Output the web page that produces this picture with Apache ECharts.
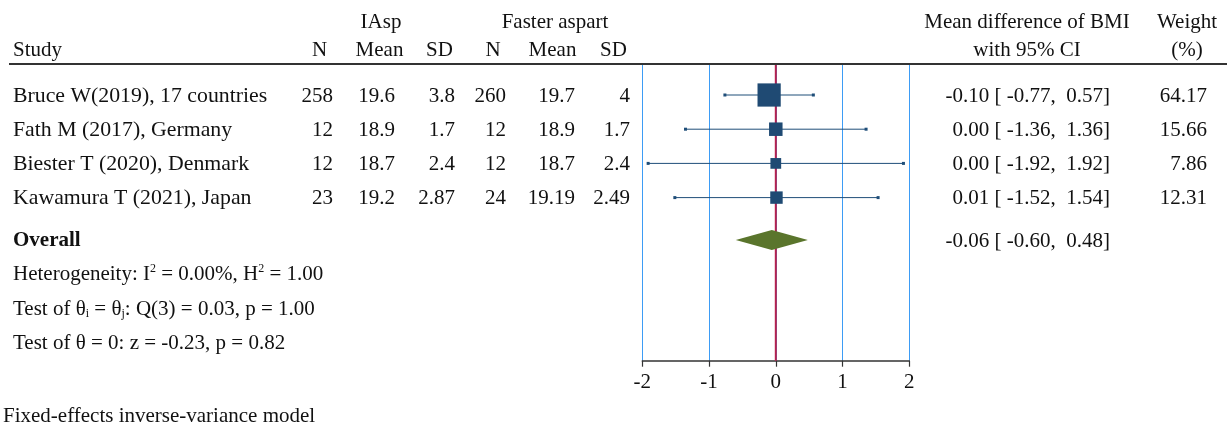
<!DOCTYPE html>
<html>
<head>
<meta charset="utf-8">
<script src="https://cdn.jsdelivr.net/npm/echarts@6/dist/echarts.min.js"></script>
<style>
html,body{margin:0;padding:0;background:#fff;}
#chart{width:1231px;height:428px;}
</style>
</head>
<body>
<div id="chart"></div>
<script>
// ---------------- data ----------------
var studies = ['Bruce W(2019), 17 countries', 'Fath M (2017), Germany', 'Biester T (2020), Denmark', 'Kawamura T (2021), Japan'];
var iaspN = [258, 12, 12, 23];
var iaspMean = ['19.6', '18.9', '18.7', '19.2'];
var iaspSD = ['3.8', '1.7', '2.4', '2.87'];
var fasterN = [260, 12, 12, 24];
var fasterMean = ['19.7', '18.9', '18.7', '19.19'];
var fasterSD = ['4', '1.7', '2.4', '2.49'];
var meanDiff = [-0.10, 0.00, 0.00, 0.01];
var ciLow = [-0.77, -1.36, -1.92, -1.52];
var ciHigh = [0.57, 1.36, 1.92, 1.54];
var weights = ['64.17', '15.66', '7.86', '12.31'];
var overallMD = -0.06;
var overallLow = -0.60;
var overallHigh = 0.48;
var nullEffect = 0;
var xTicks = [-2, -1, 0, 1, 2];
var statLines = [
  'Heterogeneity: I{sup|2} = 0.00%, H{sup|2} = 1.00',
  'Test of θ{sub|i} = θ{sub|j}: Q(3) = 0.03, p = 1.00',
  'Test of θ = 0: z = -0.23, p = 0.82'
];
var footer = 'Fixed-effects inverse-variance model';

// ---------------- layout ----------------
var FONT = '"Liberation Serif", "Times New Roman", serif';
var FS = 21;
var PLOT_TOP = 65, PLOT_BOTTOM = 360.7;
function rowPos(i) { return 30 + 34.2 * i; }   // offset from plot top (px units on y axis)
var OVERALL_POS = 175;

function fmt(v) { return v.toFixed(2); }
function ciText(m, l, h) { return fmt(m) + ' [ ' + fmt(l) + ',  ' + fmt(h) + ']'; }

var graphics = [];
function T(text, x, y, align, extra) {
  var st = {
    text: String(text), x: x, y: y,
    textAlign: align || 'left', textVerticalAlign: 'middle',
    font: FS + 'px ' + FONT, fill: '#111'
  };
  if (extra) for (var k in extra) st[k] = extra[k];
  graphics.push({ type: 'text', silent: true, style: st, z: 10 });
}

// headers
T('IAsp', 381, 22, 'center');
T('Faster aspart', 555, 22, 'center');
T('Mean difference of BMI', 1027, 22, 'center');
T('Weight', 1187, 22, 'center');
T('Study', 13, 50, 'left');
T('N', 319.5, 50, 'center');
T('Mean', 379.5, 50, 'center');
T('SD', 439.5, 50, 'center');
T('N', 493, 50, 'center');
T('Mean', 552.5, 50, 'center');
T('SD', 613.5, 50, 'center');
T('with 95% CI', 1027, 50, 'center');
T('(%)', 1187, 50, 'center');
graphics.push({ type: 'line', silent: true, z: 10,
  shape: { x1: 9, y1: 64, x2: 1227, y2: 64 },
  style: { stroke: '#333', lineWidth: 2 } });

// study rows
for (var i = 0; i < studies.length; i++) {
  var y = PLOT_TOP + rowPos(i) + 1;
  T(studies[i], 13, y, 'left', { font: (FS + 0.8) + 'px ' + FONT });
  T(iaspN[i], 333, y, 'right');
  T(iaspMean[i], 395, y, 'right');
  T(iaspSD[i], 455, y, 'right');
  T(fasterN[i], 506, y, 'right');
  T(fasterMean[i], 575, y, 'right');
  T(fasterSD[i], 630, y, 'right');
  T(ciText(meanDiff[i], ciLow[i], ciHigh[i]), 1110, y, 'right');
  T(weights[i], 1207, y, 'right');
}
// overall
T('Overall', 13, PLOT_TOP + OVERALL_POS + 1, 'left', { font: 'bold ' + FS + 'px ' + FONT });
T(ciText(overallMD, overallLow, overallHigh), 1110, PLOT_TOP + OVERALL_POS + 1, 'right');
var statY = [274, 309, 343];
var rich = {
  sup: { fontSize: 12, fontFamily: FONT, verticalAlign: 'top', lineHeight: 22, padding: [0, 0, 8, 0] },
  sub: { fontSize: 12, fontFamily: FONT, verticalAlign: 'bottom', lineHeight: 22, padding: [6, 0, 0, 0] }
};
for (var s = 0; s < statLines.length; s++) {
  T(statLines[s], 13, statY[s], 'left', { rich: rich });
}
T(footer, 3, 416, 'left');

// ---------------- chart ----------------
var chart = echarts.init(document.getElementById('chart'), null, { renderer: 'canvas' });

var ciData = [], sqData = [];
for (var j = 0; j < studies.length; j++) {
  ciData.push([ciLow[j], ciHigh[j], rowPos(j)]);
  sqData.push([meanDiff[j], rowPos(j), parseFloat(weights[j])]);
}

var option = {
  animation: false,
  backgroundColor: '#fff',
  grid: { left: 642.3, right: 1231 - 909.3, top: PLOT_TOP, bottom: 428 - PLOT_BOTTOM },
  xAxis: {
    type: 'value', min: xTicks[0], max: xTicks[xTicks.length - 1], interval: 1,
    axisLine: { show: true, onZero: false, lineStyle: { color: '#333', width: 1.5 } },
    axisTick: { show: true, length: 6, inside: false, lineStyle: { color: '#333', width: 1.2 } },
    axisLabel: { fontFamily: FONT, fontSize: FS, color: '#111', margin: 11 },
    splitLine: { show: true, lineStyle: { color: '#3d9cf5', width: 1 } }
  },
  yAxis: {
    type: 'value', inverse: true, min: 0, max: PLOT_BOTTOM - PLOT_TOP,
    show: false, splitLine: { show: false }
  },
  series: [
    {
      type: 'custom', z: 1, silent: true,
      data: [[nullEffect]],
      renderItem: function (params, api) {
        var c = params.coordSys;
        var p = api.coord([api.value(0), 0]);
        return {
          type: 'line',
          shape: { x1: p[0], y1: c.y, x2: p[0], y2: c.y + c.height },
          style: { stroke: '#b8224e', lineWidth: 2 }
        };
      }
    },
    {
      type: 'custom', z: 3, silent: true,
      data: ciData,
      renderItem: function (params, api) {
        var a = api.coord([api.value(0), api.value(2)]);
        var b = api.coord([api.value(1), api.value(2)]);
        return {
          type: 'group',
          children: [
            { type: 'line', shape: { x1: a[0], y1: a[1], x2: b[0], y2: b[1] }, style: { stroke: '#1f4e79', lineWidth: 1 } },
            { type: 'rect', shape: { x: a[0] - 1, y: a[1] - 1.5, width: 3, height: 3 }, style: { fill: '#1f4e79' } },
            { type: 'rect', shape: { x: b[0] - 2, y: b[1] - 1.5, width: 3, height: 3 }, style: { fill: '#1f4e79' } }
          ]
        };
      }
    },
    {
      type: 'scatter', z: 4, silent: true,
      symbol: 'rect',
      data: sqData,
      symbolSize: function (v) { return 4 + 2.4 * Math.sqrt(v[2]); },
      itemStyle: { color: '#1f4a73', opacity: 1 }
    },
    {
      type: 'custom', z: 4, silent: true,
      data: [[overallLow, overallMD, overallHigh, OVERALL_POS]],
      renderItem: function (params, api) {
        var l = api.coord([api.value(0), api.value(3)]);
        var m = api.coord([api.value(1), api.value(3)]);
        var h = api.coord([api.value(2), api.value(3)]);
        return {
          type: 'polygon',
          shape: { points: [[l[0], l[1]], [m[0], m[1] - 10], [h[0], h[1]], [m[0], m[1] + 10]] },
          style: { fill: '#5a752c' }
        };
      }
    }
  ],
  graphic: graphics
};
chart.setOption(option);
</script>
</body>
</html>
